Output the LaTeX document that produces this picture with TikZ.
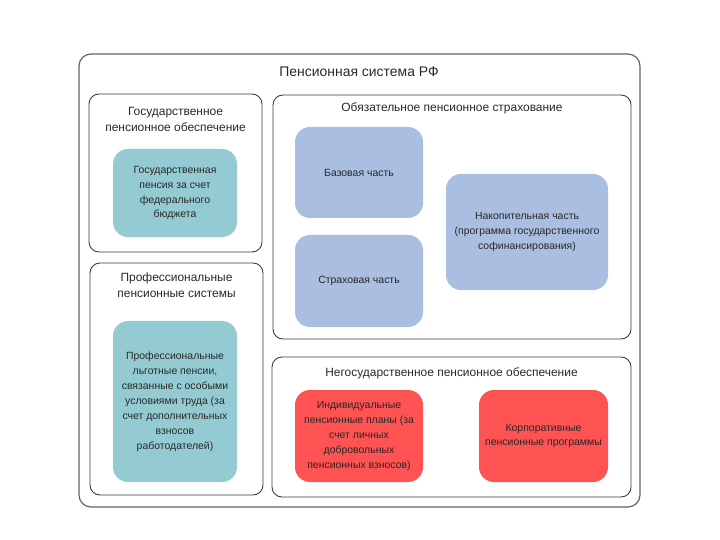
\documentclass[tikz,border=0pt]{standalone}
\usepackage{fontspec}
\setmainfont{Liberation Sans}
\definecolor{tealbox}{RGB}{148,203,210}
\definecolor{bluebox}{RGB}{170,190,226}
\definecolor{redbox}{RGB}{255,82,82}
\definecolor{edge}{RGB}{60,60,60}
\definecolor{txt}{RGB}{40,40,40}
\tikzset{
  outerbox/.style={draw=edge!80, line width=1.2pt, rounded corners=12bp, inner sep=0pt},
  groupbox/.style={draw=edge, line width=0.9pt, rounded corners=10bp, inner sep=0pt},
  innerbox/.style={rounded corners=15bp, inner sep=0pt, align=center, text=txt,
    font=\fontsize{10.5}{15}\selectfont},
  tealfill/.style={innerbox, fill=tealbox},
  bluefill/.style={innerbox, fill=bluebox},
  redfill/.style={innerbox, fill=redbox},
  maintitle/.style={text=txt, font=\fontsize{14}{16}\selectfont, inner sep=0pt},
  grouptitle/.style={text=txt, align=center, font=\fontsize{12}{16}\selectfont, inner sep=0pt},
}
\begin{document}
\begin{tikzpicture}[x=1bp,y=-1bp]
\useasboundingbox (0,0) rectangle (720,540);
% outer
\node[outerbox, minimum width=561bp, minimum height=453bp] (outer) at (359.5,280.5) {};
\node[maintitle] (title) at (359,72) {Пенсионная система РФ};
% group A
\node[groupbox, minimum width=173bp, minimum height=158bp] (gA) at (175.5,173) {};
\node[grouptitle] (tA) at (175.5,119) {Государственное\\пенсионное обеспечение};
\node[tealfill, minimum width=124bp, minimum height=88bp] (a1) at (175,193) {Государственная\\пенсия за счет\\федерального\\бюджета};
% group B
\node[groupbox, minimum width=358bp, minimum height=244bp] (gB) at (452,217) {};
\node[grouptitle] (tB) at (452,108) {Обязательное пенсионное страхование};
\node[bluefill, minimum width=128bp, minimum height=91bp] (b1) at (359,172.5) {Базовая часть};
\node[bluefill, minimum width=128bp, minimum height=92bp] (b2) at (359,281) {Страховая часть};
\node[bluefill, minimum width=162bp, minimum height=116bp] (b3) at (527,232) {Накопительная часть\\(программа государственного\\софинансирования)};
% group C
\node[groupbox, minimum width=173bp, minimum height=232bp] (gC) at (176.5,379) {};
\node[grouptitle] (tC) at (176.5,285) {Профессиональные\\пенсионные системы};
\node[tealfill, minimum width=124bp, minimum height=161bp] (c1) at (175,401.5) {Профессиональные\\льготные пенсии,\\связанные с особыми\\условиями труда (за\\счет дополнительных\\взносов\\работодателей)};
% group D
\node[groupbox, minimum width=359bp, minimum height=140bp] (gD) at (451.5,427) {};
\node[grouptitle] (tD) at (451.5,373) {Негосударственное пенсионное обеспечение};
\node[redfill, minimum width=128bp, minimum height=92bp] (d1) at (359,436) {Индивидуальные\\пенсионные планы (за\\счет личных\\добровольных\\пенсионных взносов)};
\node[redfill, minimum width=129bp, minimum height=92bp] (d2) at (543.5,436) {Корпоративные\\пенсионные программы};
\end{tikzpicture}
\end{document}
